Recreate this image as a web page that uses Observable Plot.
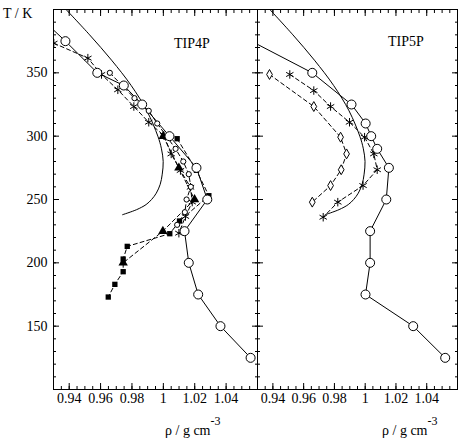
<!DOCTYPE html>
<html><head><meta charset="utf-8">
<script src="https://cdn.jsdelivr.net/npm/d3@7"></script>
<script src="https://cdn.jsdelivr.net/npm/@observablehq/plot@0.6"></script>
<style>
body{margin:0;background:#fff;}
#wrap{position:relative;width:458px;height:439px;font-family:"Liberation Serif",serif;color:#000;}
.abs{position:absolute;white-space:nowrap;line-height:1;}
.panel{position:absolute;top:0;}
sup{font-size:12px;position:relative;top:-4px;}
svg text{font-family:"Liberation Serif",serif !important;}
</style></head><body>
<div id="wrap">
  <div class="panel" id="p1" style="left:0"></div>
  <div class="panel" id="p2" style="left:257px"></div>
  <div class="abs" style="left:3px;top:7px;font-size:14px">T / K</div>
  <div class="abs" style="left:174px;top:37px;font-size:14px">TIP4P</div>
  <div class="abs" style="left:388px;top:35px;font-size:14px">TIP5P</div>
  <div class="abs" style="left:165px;top:419px;font-size:14px">ρ / g cm<sup>-3</sup></div>
  <div class="abs" style="left:382px;top:419px;font-size:14px">ρ / g cm<sup>-3</sup></div>
</div>
<script>
// ---- experimental density curve (solid, no markers) ----
const expT   = [400, 380, 360, 340, 320, 300, 290, 280, 270, 262, 255, 250, 246, 242, 238];
const expRho = [0.938, 0.953, 0.967, 0.9795, 0.9895, 0.9965, 0.9988, 0.9999, 0.9993, 0.998, 0.9955, 0.9925, 0.989, 0.983, 0.974];

// ---- TIP4P ----
const tip4pCircleT   = [400, 375, 350, 340, 325, 300, 275, 250, 225, 200, 175, 150, 125];
const tip4pCircleRho = [0.916, 0.9376, 0.9579, 0.9748, 0.9865, 1.0039, 1.0211, 1.028, 1.0135, 1.0162, 1.0222, 1.0364, 1.0556];
const tip4pSmallT    = [350, 330, 320, 310, 290, 280, 270, 260, 250, 240, 230];
const tip4pSmallRho  = [0.9659, 0.9816, 0.9907, 0.9961, 1.0078, 1.0127, 1.0162, 1.0175, 1.0148, 1.0137, 1.0088];
const tip4pStarT     = [373.4, 361.6, 348.7, 336.6, 323.4, 311, 300.5, 286, 272.9, 259.7, 248, 236.6, 223.4];
const tip4pStarRho   = [0.9302, 0.9519, 0.9606, 0.971, 0.9812, 0.9907, 1.0003, 1.005, 1.0109, 1.0173, 1.0184, 1.0141, 1.0099];
const tip4pSquareT   = [298, 273, 253, 233, 223, 213, 203, 193, 183, 173];
const tip4pSquareRho = [1.0088, 1.0211, 1.029, 1.0103, 1.0041, 0.977, 0.9744, 0.9744, 0.9691, 0.9649];
const tip4pTriT      = [300, 275, 250, 225, 200];
const tip4pTriRho    = [0.9999, 1.0099, 1.0199, 0.9997, 0.9744];

// ---- TIP5P ----
const tip5pCircleT   = [375, 350, 325, 310, 300, 290, 275, 250, 225, 200, 175, 150, 125];
const tip5pCircleRho = [0.926, 0.9656, 0.9911, 1.0003, 1.0039, 1.0078, 1.0154, 1.0137, 1.0032, 1.0032, 1.0002, 1.0312, 1.052];
const tip5pStarT     = [348.7, 336, 323.4, 311, 299.2, 286, 273.5, 261, 247.9, 236];
const tip5pStarRho   = [0.951, 0.9666, 0.9775, 0.9898, 0.9996, 1.0056, 1.0078, 0.9986, 0.9822, 0.9727];
const tip5pDiaT      = [348.7, 323.4, 299.2, 286, 273.5, 261, 247.9];
const tip5pDiaRho    = [0.9378, 0.9666, 0.984, 0.9879, 0.9844, 0.9775, 0.9656];

// ---- ticks ----
const xTicks = [0.94, 0.96, 0.98, 1, 1.02, 1.04];
const xTickLabels = ["0.94", "0.96", "0.98", "1", "1.02", "1.04"];
const xMinor = d3.range(0, 27).map(i => +(0.93 + i * 0.005).toFixed(3));
const yTicks = [150, 200, 250, 300, 350];
const yMinor = d3.range(100, 401, 10);

const rows = (T, R) => T.map((t, i) => ({T: t, rho: R[i]}));
const FONT = '"Liberation Serif", serif';

function frameTicks(showYLabels) {
  const m = [
    Plot.axisX(xMinor, {anchor: "bottom", tickSize: -3, fill: "none", label: null}),
    Plot.axisX(xTicks, {anchor: "bottom", tickSize: -6, fill: "none", label: null}),
    Plot.axisX(xMinor, {anchor: "top", tickSize: -3, fill: "none", label: null}),
    Plot.axisX(xTicks, {anchor: "top", tickSize: -6, fill: "none", label: null}),
    Plot.axisX(xTicks, {anchor: "bottom", tickSize: 0, tickPadding: 4, label: null, fontSize: 14, fontFamily: FONT,
      tickFormat: d => xTickLabels[xTicks.indexOf(d)]}),
    Plot.axisY(yMinor, {anchor: "left", tickSize: -3, fill: "none", label: null}),
    Plot.axisY(yTicks, {anchor: "left", tickSize: -6, fill: "none", label: null}),
    Plot.axisY(yMinor, {anchor: "right", tickSize: -3, fill: "none", label: null}),
    Plot.axisY(yTicks, {anchor: "right", tickSize: -6, fill: "none", label: null}),
  ];
  if (showYLabels) m.push(Plot.axisY(yTicks, {anchor: "left", tickSize: 0, tickPadding: 6, label: null, fontSize: 14, fontFamily: FONT,
    tickFormat: d => String(d)}));
  m.push(Plot.frame({stroke: "black", strokeWidth: 1}));
  return m;
}

const dash = "4,3";
const common = {
  height: 439, marginTop: 9, marginBottom: 50,
  x: {domain: [0.93, 1.06]},
  y: {domain: [100, 400]},
  style: {fontFamily: FONT, fontSize: "14px", color: "black", background: "transparent", overflow: "visible"}
};

const exp = rows(expT, expRho);

const p1 = Plot.plot({
  ...common, width: 258, marginLeft: 53, marginRight: 1,
  marks: [
    ...frameTicks(true),
    Plot.line(exp, {x: "rho", y: "T", stroke: "black", strokeWidth: 1, curve: "catmull-rom", clip: true}),
    Plot.line(rows(tip4pCircleT, tip4pCircleRho), {x: "rho", y: "T", stroke: "black", strokeWidth: 1, clip: true}),
    Plot.line(rows(tip4pSmallT, tip4pSmallRho), {x: "rho", y: "T", stroke: "black", strokeWidth: 1, strokeDasharray: dash, clip: true}),
    Plot.line(rows(tip4pStarT, tip4pStarRho), {x: "rho", y: "T", stroke: "black", strokeWidth: 1, strokeDasharray: dash, clip: true}),
    Plot.line(rows(tip4pSquareT, tip4pSquareRho), {x: "rho", y: "T", stroke: "black", strokeWidth: 1, strokeDasharray: dash, clip: true}),
    Plot.line(rows(tip4pTriT, tip4pTriRho), {x: "rho", y: "T", stroke: "black", strokeWidth: 1, strokeDasharray: dash, clip: true}),
    Plot.dot(rows(tip4pSquareT, tip4pSquareRho), {x: "rho", y: "T", symbol: "square", r: 3, fill: "black", stroke: "none", clip: true}),
    Plot.dot(rows(tip4pTriT, tip4pTriRho), {x: "rho", y: "T", symbol: "triangle", r: 3.5, fill: "black", stroke: "none", clip: true}),
    Plot.dot(rows(tip4pStarT, tip4pStarRho), {x: "rho", y: "T", symbol: "asterisk", r: 4, stroke: "black", strokeWidth: 1, clip: true}),
    Plot.dot(rows(tip4pSmallT, tip4pSmallRho), {x: "rho", y: "T", r: 2.6, fill: "white", stroke: "black", strokeWidth: 1, clip: true}),
    Plot.dot(rows(tip4pCircleT, tip4pCircleRho), {x: "rho", y: "T", r: 4.5, fill: "white", stroke: "black", strokeWidth: 1, clip: true})
  ]
});

const p2 = Plot.plot({
  ...common, width: 201, marginLeft: 0, marginRight: 1,
  marks: [
    ...frameTicks(false),
    Plot.line(exp, {x: "rho", y: "T", stroke: "black", strokeWidth: 1, curve: "catmull-rom", clip: true}),
    Plot.line(rows(tip5pCircleT, tip5pCircleRho), {x: "rho", y: "T", stroke: "black", strokeWidth: 1, clip: true}),
    Plot.line(rows(tip5pStarT, tip5pStarRho), {x: "rho", y: "T", stroke: "black", strokeWidth: 1, strokeDasharray: dash, clip: true}),
    Plot.line(rows(tip5pDiaT, tip5pDiaRho), {x: "rho", y: "T", stroke: "black", strokeWidth: 1, strokeDasharray: dash, clip: true}),
    Plot.dot(rows(tip5pStarT, tip5pStarRho), {x: "rho", y: "T", symbol: "asterisk", r: 4, stroke: "black", strokeWidth: 1, clip: true}),
    Plot.dot(rows(tip5pDiaT, tip5pDiaRho), {x: "rho", y: "T", symbol: "diamond", r: 3, fill: "white", stroke: "black", strokeWidth: 1, clip: true}),
    Plot.dot(rows(tip5pCircleT, tip5pCircleRho), {x: "rho", y: "T", r: 4.5, fill: "white", stroke: "black", strokeWidth: 1, clip: true})
  ]
});

document.getElementById("p1").appendChild(p1);
document.getElementById("p2").appendChild(p2);
</script>
</body></html>
